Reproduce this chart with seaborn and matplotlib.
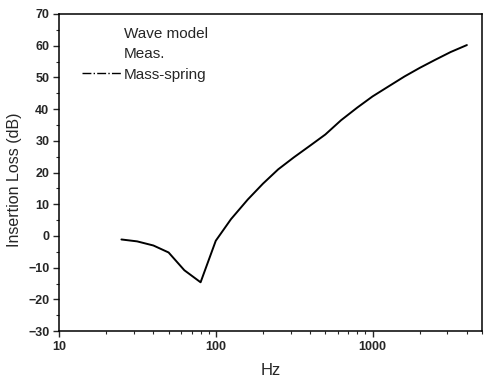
import numpy as np
import matplotlib
matplotlib.use("Agg")
import matplotlib.pyplot as plt
from matplotlib.lines import Line2D
from matplotlib.ticker import LogLocator, FixedLocator, NullFormatter
import pandas as pd
import seaborn as sns

freq = [25, 31.5, 40, 50, 63, 80, 100, 125, 160, 200, 250, 315, 400, 500,
        630, 800, 1000, 1250, 1600, 2000, 2500, 3150, 4000]
loss = [-1.1, -1.7, -3.0, -5.2, -10.8, -14.6, -1.5, 5.3, 11.5, 16.5, 21.0,
        24.8, 28.5, 32.0, 36.5, 40.5, 44.0, 47.0, 50.3, 53.0, 55.5, 58.0, 60.2]
legend_labels = ["Wave model", "Meas.", "Mass-spring"]

sns.set_style("ticks")
plt.rcParams['font.family'] = ['Liberation Sans', 'DejaVu Sans']

df = pd.DataFrame({"Hz": freq, "IL": loss})

fig = plt.figure(figsize=(4.84, 3.78), dpi=100)
ax = fig.add_axes([0.122, 0.124, 0.874, 0.839])
sns.lineplot(data=df, x="Hz", y="IL", color="black", lw=1.4, ax=ax)
ax.set_xscale("log")
ax.set_xlim(10, 5000)
ax.set_ylim(-30, 70)
ax.set_yticks(np.arange(-30, 71, 10))
ax.yaxis.set_minor_locator(FixedLocator(np.arange(-25, 70, 10)))
ax.xaxis.set_major_locator(FixedLocator([10, 100, 1000]))
ax.xaxis.set_minor_locator(LogLocator(base=10, subs=np.arange(2, 10)))
ax.xaxis.set_minor_formatter(NullFormatter())
ax.set_xticklabels(["10", "100", "1000"])
ax.tick_params(which="major", direction="out", length=4, width=1, labelsize=9, pad=3)
ax.tick_params(which="minor", direction="out", length=2.5, width=0.8)
for lab in ax.get_xticklabels() + ax.get_yticklabels():
    lab.set_fontweight("bold")
for s in ax.spines.values():
    s.set_linewidth(1.1)
    s.set_color("black")
ax.set_xlabel("Hz", fontsize=12, labelpad=7)
ax.set_ylabel("Insertion Loss (dB)", fontsize=11.5)
ax.yaxis.set_label_coords(-0.088, 0.476)

handles = [Line2D([], [], color="none"),
           Line2D([], [], color="black", ls="none"),
           Line2D([], [], color="black", ls="-.", lw=1)]
ax.legend(handles, legend_labels, loc="upper left", bbox_to_anchor=(0.055, 0.958),
          frameon=False, fontsize=11, handlelength=2.6, handletextpad=0.1,
          labelspacing=0.4, borderpad=0, borderaxespad=0)

fig.savefig("out.png", dpi=100)
